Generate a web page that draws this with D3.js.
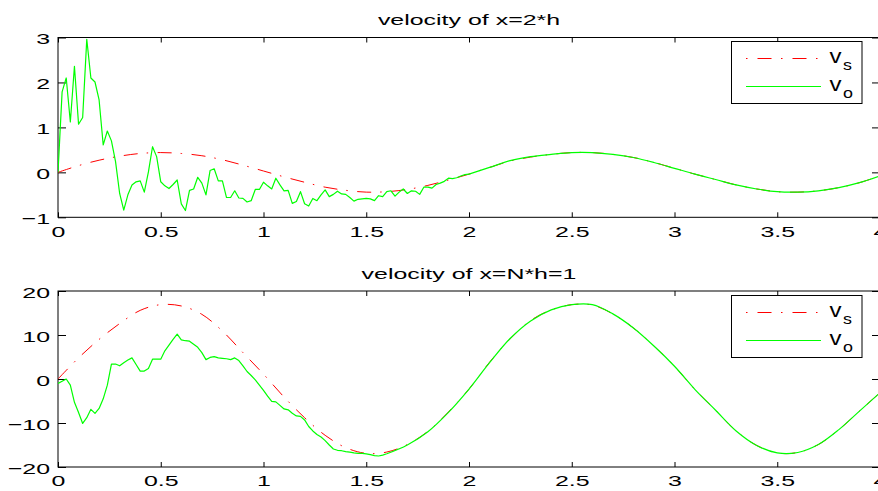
<!DOCTYPE html>
<html><head><meta charset="utf-8">
<script src="https://cdn.jsdelivr.net/npm/d3@7"></script>
<style>
body{margin:0;background:#fff;}
svg{display:block;}
text{font-family:"Liberation Sans",Arial,Helvetica,sans-serif;fill:#000;}
</style>
</head><body>
<svg id="c" width="878" height="491"></svg>
<script>
// ---------- data ----------
const xTicks = [0, 0.5, 1, 1.5, 2, 2.5, 3, 3.5, 4];
const topYTicks = [-1, 0, 1, 2, 3];
const botYTicks = [-20, -10, 0, 10, 20];
const titles = ["velocity of x=2*h", "velocity of x=N*h=1"];
const legendNames = [["v", "s"], ["v", "o"]];

// v_s, top panel, t = 0 .. 4 step 0.1
const topVs = [0.00, 0.15, 0.27, 0.36, 0.42, 0.44, 0.42, 0.37, 0.28, 0.16,
  0.03, -0.10, -0.22, -0.33, -0.40, -0.44, -0.43, -0.38, -0.29, -0.17,
  -0.04, 0.11, 0.25, 0.34, 0.40, 0.44, 0.44, 0.40, 0.33, 0.22,
  0.09, -0.04, -0.16, -0.28, -0.37, -0.43, -0.44, -0.41, -0.34, -0.23, -0.08];
// v_o, top panel, t = 0 .. 2.0 step 0.02
const topVoEarly = [0.00, 1.79, 2.10, 1.12, 2.36, 1.07, 1.22, 2.96, 2.10, 2.01,
  1.61, 0.61, 0.92, 0.70, 0.24, -0.47, -0.84, -0.50, -0.28, -0.21,
  -0.19, -0.44, 0.01, 0.57, 0.35, -0.21, -0.30, -0.36, -0.27, -0.17,
  -0.70, -0.85, -0.40, -0.37, -0.11, -0.24, -0.50, 0.04, 0.08, -0.19,
  -0.19, -0.56, -0.56, -0.41, -0.57, -0.58, -0.66, -0.63, -0.38, -0.38,
  -0.22, -0.30, -0.37, -0.13, -0.28, -0.41, -0.40, -0.69, -0.65, -0.43,
  -0.70, -0.75, -0.58, -0.63, -0.50, -0.39, -0.54, -0.49, -0.42, -0.48,
  -0.49, -0.56, -0.64, -0.60, -0.59, -0.58, -0.59, -0.63, -0.52, -0.54,
  -0.43, -0.41, -0.53, -0.44, -0.37, -0.47, -0.41, -0.42, -0.49, -0.33,
  -0.33, -0.35, -0.27, -0.24, -0.20, -0.13, -0.14, -0.12, -0.08, -0.05,
  -0.04];
// v_o, top panel, t = 2.1 .. 4.0 step 0.1
const topVoLate = [0.11, 0.26, 0.35, 0.40, 0.44, 0.44, 0.40, 0.33, 0.22, 0.09,
  -0.04, -0.16, -0.28, -0.37, -0.43, -0.44, -0.41, -0.34, -0.23, -0.08];

// v_s, bottom panel, t = 0 .. 4 step 0.1
const botVs = [0, 4.8, 9.0, 12.6, 15.6, 16.9, 16.6, 14.7, 10.9, 6.0,
  1.1, -4.1, -8.8, -12.8, -15.6, -16.9, -16.6, -14.9, -11.9, -7.5,
  -2.3, 3.8, 9.1, 13.3, 15.7, 16.9, 16.8, 14.8, 11.6, 7.5,
  2.9, -2.4, -7.1, -11.8, -15.1, -16.8, -16.7, -14.9, -11.5, -7.3, -3.1];
// v_o, bottom panel, t = 0 .. 1.6 step 0.02
const botVoEarly = [-1.0, -0.5, 0.0, -1.4, -5.3, -7.6, -10.1, -8.8, -6.9, -7.8,
  -6.7, -4.5, -1.4, 3.4, 3.4, 3.0, 3.7, 4.3, 4.8, 3.3,
  1.8, 1.8, 2.4, 4.5, 4.5, 4.5, 6.4, 7.7, 9.0, 10.2,
  8.9, 8.7, 8.6, 7.9, 7.2, 6.0, 4.4, 4.9, 5.1, 4.8,
  4.7, 4.6, 4.4, 4.8, 4.2, 3.0, 1.7, 0.8, -0.2, -1.4,
  -2.6, -3.9, -5.1, -5.2, -6.0, -6.8, -7.0, -7.8, -8.4, -8.5,
  -9.3, -10.8, -11.8, -12.6, -13.2, -14.0, -15.0, -15.9, -16.2, -16.3,
  -16.5, -16.6, -16.8, -16.9, -16.9, -17.0, -17.2, -17.4, -17.5, -17.3,
  -17.0];
// v_o, bottom panel, t = 1.7 .. 4.0 step 0.1
const botVoLate = [-15.0, -12.0, -7.6, -2.3, 3.7, 9.2, 13.2, 15.7, 16.9, 16.9,
  14.8, 11.6, 7.5, 2.9, -2.4, -7.1, -11.8, -15.1, -16.8, -16.7,
  -14.9, -11.5, -7.3, -3.1];

// ---------- helpers ----------
const SX = 1.62;            // horizontal text stretch of the reference
const FS = 15.4;
const svg = d3.select("#c");
const fmt = d => d < 0 ? "\u2212" + Math.abs(d) : String(d);

const coarse = arr => arr.map((v, i) => [i / 10, v]);
const fine = (arr, t0) => arr.map((v, i) => [t0 + i * 0.02, v]);
const late = (arr, t0) => arr.map((v, i) => [t0 + i / 10, v]);

const panels = [
  { top: 37.5, bottom: 217.3, domain: [-1, 3], yTicks: topYTicks, title: titles[0],
    vs: coarse(topVs), voA: fine(topVoEarly, 0), voB: late(topVoLate, 2.1), legY: 41.5 },
  { top: 291, bottom: 467, domain: [-20, 20], yTicks: botYTicks, title: titles[1],
    vs: coarse(botVs), voA: fine(botVoEarly, 0), voB: late(botVoLate, 1.7), legY: 295.5 }
];

const x = d3.scaleLinear().domain([0, 4]).range([58, 880]);

panels.forEach((p, pi) => {
  const y = d3.scaleLinear().domain(p.domain).range([p.bottom, p.top]);
  const g = svg.append("g");
  const clipId = "clip" + pi;
  svg.append("clipPath").attr("id", clipId).append("rect")
    .attr("x", x.range()[0]).attr("y", p.top).attr("width", x.range()[1] - x.range()[0]).attr("height", p.bottom - p.top);

  // title
  g.append("text").attr("transform", `translate(${(x.range()[0] + x.range()[1]) / 2},${p.top - 12.5}) scale(${SX},1)`)
    .attr("text-anchor", "middle").attr("font-size", FS).text(p.title);

  // axes
  const axB = g.append("g").attr("transform", `translate(0,${p.bottom})`)
    .call(d3.axisBottom(x).tickValues(xTicks).tickSize(-5).tickPadding(8.3).tickFormat(fmt));
  const axT = g.append("g").attr("transform", `translate(0,${p.top})`)
    .call(d3.axisTop(x).tickValues(xTicks).tickSize(-5).tickFormat(""));
  const axL = g.append("g").attr("transform", `translate(${x.range()[0]},0)`)
    .call(d3.axisLeft(y).tickValues(p.yTicks).tickSize(-8).tickFormat(fmt));
  const axR = g.append("g").attr("transform", `translate(${x.range()[1]},0)`)
    .call(d3.axisRight(y).tickValues(p.yTicks).tickSize(-8).tickFormat(""));
  [axB, axT, axL, axR].forEach(a => {
    a.select(".domain").remove();
    a.selectAll("line").attr("stroke", "#000").attr("stroke-width", 1);
  });
  axB.selectAll("text").attr("font-size", FS).attr("font-family", "Liberation Sans, Arial, sans-serif")
    .attr("fill", "#000").attr("transform", `scale(${SX},1)`);
  axL.selectAll("text").attr("font-size", FS).attr("font-family", "Liberation Sans, Arial, sans-serif")
    .attr("fill", "#000").attr("x", -8 / SX).attr("dy", "0.4em").attr("transform", `scale(${SX},1)`);

  // box
  g.append("rect").attr("x", x.range()[0]).attr("y", p.top)
    .attr("width", x.range()[1] - x.range()[0]).attr("height", p.bottom - p.top)
    .attr("fill", "none").attr("stroke", "#000").attr("stroke-width", 1);

  // lines
  const smooth = d3.line().x(d => x(d[0])).y(d => y(d[1])).curve(d3.curveCatmullRom.alpha(0.5));
  const straight = d3.line().x(d => x(d[0])).y(d => y(d[1]));
  const lg = g.append("g").attr("clip-path", `url(#${clipId})`);
  lg.append("path").datum(p.vs).attr("d", smooth).attr("fill", "none")
    .attr("stroke", "#ff0000").attr("stroke-width", 1).attr("stroke-dasharray", "14,9,1.5,9.5");
  lg.append("path").datum(p.voA).attr("d", straight).attr("fill", "none")
    .attr("stroke", "#00ff00").attr("stroke-width", 1.2).attr("stroke-linejoin", "round");
  lg.append("path").datum([p.voA[p.voA.length - 1]].concat(p.voB)).attr("d", smooth).attr("fill", "none")
    .attr("stroke", "#00ff00").attr("stroke-width", 1.2);

  // legend
  const L = g.append("g").attr("transform", `translate(731.5,${p.legY})`);
  L.append("rect").attr("width", 130.5).attr("height", 62).attr("fill", "#fff")
    .attr("stroke", "#000").attr("stroke-width", 1);
  const rows = [{ y: 17, color: "#ff0000", dash: "1.5,10,14,9.5", w: 1.1, name: legendNames[0] },
                { y: 45, color: "#00ff00", dash: null, w: 1.2, name: legendNames[1] }];
  rows.forEach(r => {
    L.append("line").attr("x1", 14.5).attr("x2", 89.5).attr("y1", r.y).attr("y2", r.y)
      .attr("stroke", r.color).attr("stroke-width", r.w).attr("stroke-dasharray", r.dash);
    L.append("text").attr("transform", `translate(98,${r.y + 4.5}) scale(1.2,1)`)
      .attr("font-size", 20).text(r.name[0]);
    L.append("text").attr("transform", `translate(111.5,${r.y + 11.5}) scale(1.28,1)`)
      .attr("font-size", 14).text(r.name[1]);
  });
});
</script>
</body></html>
